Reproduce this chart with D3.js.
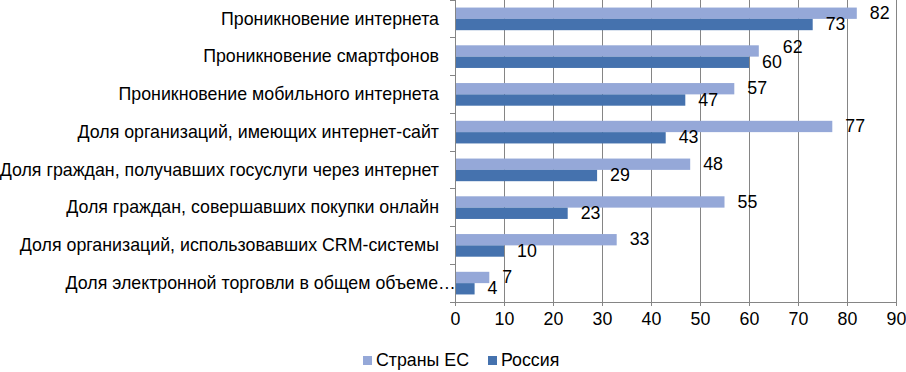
<!DOCTYPE html>
<html>
<head>
<meta charset="utf-8">
<script src="https://cdn.jsdelivr.net/npm/d3@7"></script>
<style>
  body { margin: 0; background: #fff; }
  svg { display: block; font-family: "Liberation Sans", Arial, sans-serif; }
</style>
</head>
<body>
<svg id="chart" width="906" height="372"></svg>
<script>
const categories = [
  "Проникновение интернета",
  "Проникновение смартфонов",
  "Проникновение мобильного интернета",
  "Доля организаций, имеющих интернет-сайт",
  "Доля граждан, получавших госуслуги через интернет",
  "Доля граждан, совершавших покупки онлайн",
  "Доля организаций, использовавших CRM-системы",
  "Доля электронной торговли в общем объеме…"
];
const seriesNames = ["Страны ЕС", "Россия"];
const euValues = [82, 62, 57, 77, 48, 55, 33, 7];
const ruValues = [73, 60, 47, 43, 29, 23, 10, 4];
const xTicks = [0, 10, 20, 30, 40, 50, 60, 70, 80, 90];
const colors = ["#95A8D8", "#4572AE"];

const FS = 17.8;
const svg = d3.select("#chart");
const pLeft = 455, pRight = 896, pTop = 0, pBottom = 302;

const x = d3.scaleLinear().domain([0, 90]).range([pLeft, pRight]);
const y = d3.scaleBand().domain(categories).range([pTop, pBottom]).paddingInner(0.4).paddingOuter(0.2);
const ySub = d3.scaleBand().domain(seriesNames).range([0, y.bandwidth()]);
const step = y.step();

// gridlines
svg.append("g").selectAll("line").data(xTicks.slice(1)).join("line")
  .attr("x1", d => x(d)).attr("x2", d => x(d))
  .attr("y1", pTop).attr("y2", pBottom)
  .attr("stroke", "#858585").attr("stroke-width", 1).attr("shape-rendering", "crispEdges");

// bars
const data = categories.map((c, i) => ({ c, vals: [euValues[i], ruValues[i]] }));
const rows = svg.append("g").selectAll("g").data(data).join("g")
  .attr("transform", d => `translate(0,${y(d.c)})`);
rows.selectAll("rect").data(d => d.vals.map((v, j) => ({ v, s: seriesNames[j], j }))).join("rect")
  .attr("x", x(0))
  .attr("y", d => ySub(d.s))
  .attr("width", d => x(d.v) - x(0))
  .attr("height", ySub.bandwidth())
  .attr("fill", d => colors[d.j]);

// value labels, with a nudge when the two labels of a row would collide
const digitW = FS * 0.556;
rows.each(function(d) {
  const g = d3.select(this);
  const ruX = x(d.vals[1]) + 13;
  const ruW = String(d.vals[1]).length * digitW;
  let euX = x(d.vals[0]) + 13;
  let euDy = 0;
  if (euX < ruX + ruW && euX + String(d.vals[0]).length * digitW > ruX) {
    euX = ruX + ruW + 1;
    euDy = -4;
  }
  const pos = [[euX, euDy], [ruX, 0]];
  d.vals.forEach((v, j) => {
    g.append("text")
      .attr("x", pos[j][0])
      .attr("y", ySub(seriesNames[j]) + ySub.bandwidth() / 2 + 1 + pos[j][1])
      .attr("dominant-baseline", "middle")
      .attr("font-size", FS)
      .attr("fill", "#000")
      .text(v);
  });
});

// x axis
const xAxis = d3.axisBottom(x).tickValues(xTicks).tickSize(4).tickPadding(6);
const gx = svg.append("g").attr("transform", `translate(0,${pBottom})`).call(xAxis);
gx.select(".domain").attr("stroke", "#858585");
gx.selectAll(".tick line").attr("stroke", "#858585");
gx.selectAll(".tick text").attr("font-size", FS).attr("font-family", "Liberation Sans, Arial, sans-serif").attr("fill", "#000");

// y axis line and ticks at category boundaries
svg.append("line").attr("x1", pLeft).attr("x2", pLeft).attr("y1", pTop).attr("y2", pBottom + 4)
  .attr("stroke", "#858585").attr("shape-rendering", "crispEdges");
const bounds = d3.range(categories.length + 1).map(i => pTop + i * step);
svg.append("g").selectAll("line").data(bounds).join("line")
  .attr("x1", pLeft - 5).attr("x2", pLeft)
  .attr("y1", d => d).attr("y2", d => d)
  .attr("stroke", "#858585").attr("shape-rendering", "crispEdges");

// category labels (a truncated label lets its ellipsis overhang the right edge)
svg.append("g").selectAll("text").data(categories).join("text")
  .attr("x", 439)
  .attr("y", d => y(d) + y.bandwidth() / 2 + 1)
  .attr("text-anchor", "end")
  .attr("dominant-baseline", "middle")
  .attr("font-size", FS)
  .attr("fill", "#000")
  .text(d => d)
  .each(function(d) {
    if (d.endsWith("…")) {
      const n = d.length;
      const ell = this.getSubStringLength(n - 1, 1);
      d3.select(this).attr("x", 439 + ell - 1);
    }
  });

// legend
const legendX = [363, 488];
const lg = svg.append("g").selectAll("g").data(seriesNames).join("g")
  .attr("transform", (d, i) => `translate(${legendX[i]},356)`);
lg.append("rect").attr("width", 9).attr("height", 9).attr("fill", (d, i) => colors[i]);
lg.append("text").attr("x", 13).attr("y", 5).attr("dominant-baseline", "middle")
  .attr("font-size", FS).attr("fill", "#000").text(d => d);
</script>
</body>
</html>
